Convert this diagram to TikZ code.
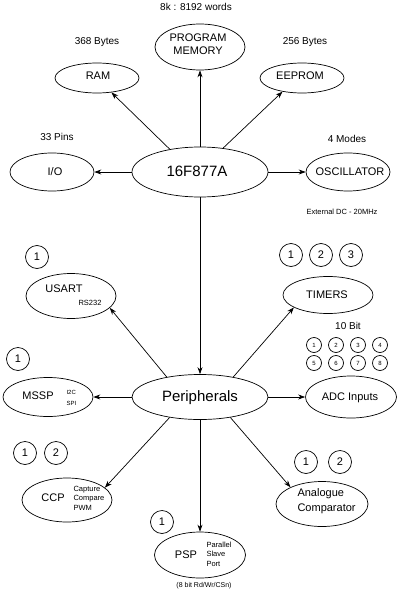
\documentclass[tikz,border=0pt]{standalone}
\usepackage{fontspec}
\setmainfont{Liberation Sans}
\usetikzlibrary{arrows.meta, shapes.geometric}

\begin{document}
\begin{tikzpicture}[x=1pt, y=-1pt,
    bigtext/.style={font=\fontsize{15}{18}\selectfont},
    nametext/.style={font=\fontsize{11}{13.5}\selectfont},
    notetext/.style={font=\fontsize{10}{12}\selectfont},
    smalltext/.style={font=\fontsize{7.5}{9.5}\selectfont}]

\useasboundingbox (0,0) rectangle (400,594);

\begin{scope}[every node/.style={ellipse,draw,line width=0.7pt,inner sep=0pt}]
    \node (chip) at (200, 172) [minimum width=136pt, minimum height=50pt] {};
    \node (prog) at (200, 47) [minimum width=90pt, minimum height=46pt] {};
    \node (ram) at (97, 78) [minimum width=84pt, minimum height=30pt] {};
    \node (eeprom) at (302, 78) [minimum width=84pt, minimum height=30pt] {};
    \node (io) at (52, 172) [minimum width=84pt, minimum height=38pt] {};
    \node (osc) at (348, 172) [minimum width=84pt, minimum height=38pt] {};

    \node (peri) at (200, 397) [minimum width=136pt, minimum height=45pt] {};
    \node (usart) at (71, 296) [minimum width=90pt, minimum height=45pt] {};
    \node (timers) at (328, 295) [minimum width=90pt, minimum height=37pt] {};
    \node (mssp) at (48, 397) [minimum width=90pt, minimum height=39pt] {};
    \node (adc) at (351, 397) [minimum width=91pt, minimum height=42pt] {};
    \node (ccp) at (67, 500) [minimum width=90pt, minimum height=44pt] {};
    \node (psp) at (200, 555) [minimum width=91pt, minimum height=46pt] {};
    \node (comp) at (322, 504) [minimum width=92pt, minimum height=45pt] {};
\end{scope}

\begin{scope}[every node/.style={nametext}]
    \node (chiptext) at (197, 171) [bigtext] {16F877A};
    \node (peritext) at (200, 398) [bigtext] {Peripherals};
    \node (progtext) at (198, 44) [align=center] {PROGRAM\\MEMORY};
    \node (ramtext) at (98, 76) {RAM};
    \node (eepromtext) at (300, 76) {EEPROM};
    \node (iotext) at (55, 172) {I/O};
    \node (osctext) at (350, 172) {OSCILLATOR};
    \node (usarttext) at (64, 289) {USART};
    \node (timerstext) at (327, 295) {TIMERS};
    \node (mssptext) at (38, 396) {MSSP};
    \node (adctext) at (350, 398) {ADC Inputs};
    \node (ccptext) at (53, 498) {CCP};
    \node (psptext) at (186, 555) {PSP};
    \node (comptext) at (294, 501) [anchor=west, align=left, font=\fontsize{11}{15}\selectfont] {Analogue\\Comparator};

    \node (rs) at (90, 303) [smalltext] {RS232};
    \node (bus) at (63, 398) [anchor=west, align=left, font=\fontsize{6}{10.5}\selectfont] {I2C\\SPI};
    \node (modes) at (70, 498) [anchor=west, align=left, smalltext] {Capture\\Compare\\PWM};
    \node (port) at (203, 554) [anchor=west, align=left, smalltext] {Parallel\\Slave\\Port};

    \node (words) at (196, 7) [notetext] {8k : 8192 words};
    \node (rambytes) at (97, 42) [notetext] {368 Bytes};
    \node (eebytes) at (305, 42) [notetext] {256 Bytes};
    \node (pins) at (57, 137) [notetext] {33 Pins};
    \node (oscmodes) at (347, 139) [notetext] {4 Modes};
    \node (bits) at (348, 326) [notetext] {10 Bit};
    \node (clock) at (342, 212) [smalltext] {External DC - 20MHz};
    \node (pspbus) at (204, 586) [font=\fontsize{7}{9}\selectfont] {(8 bit Rd/Wr/CSn)};
\end{scope}

\begin{scope}[every node/.style={circle,draw,line width=0.7pt,inner sep=0pt,minimum size=23pt,font=\fontsize{11}{13}\selectfont}]
    \node (usart1) at (37, 257) {1};
    \node (mssp1) at (18, 359) {1};
    \node (timers1) at (291, 255) {1};
    \node (timers2) at (321, 255) {2};
    \node (timers3) at (351, 255) {3};
    \node (ccp1) at (25, 453) {1};
    \node (ccp2) at (56, 453) {2};
    \node (psp1) at (162, 522) {1};
    \node (comp1) at (306, 462) {1};
    \node (comp2) at (340, 462) {2};
\end{scope}

\begin{scope}[every node/.style={circle,draw,line width=0.7pt,inner sep=0pt,minimum size=15pt,font=\fontsize{6}{7}\selectfont}]
    \node (adc1) at (314, 345) {1};
    \node (adc2) at (336, 345) {2};
    \node (adc3) at (358, 345) {3};
    \node (adc4) at (380, 345) {4};
    \node (adc5) at (314, 363) {5};
    \node (adc6) at (336, 363) {6};
    \node (adc7) at (358, 363) {7};
    \node (adc8) at (380, 363) {8};
\end{scope}

\begin{scope}[>={Stealth[length=7pt,width=5pt]},
              every edge/.style={draw,line width=0.7pt}]
    \path [->] (chip.north) edge (prog.south);
    \path [->] (chip.143) edge (ram.-45);
    \path [->] (chip.46) edge (eeprom.-145);
    \path [->] (chip.west) edge (io.east);
    \path [->] (chip.east) edge (osc.west);
    \path [->] (chip.south) edge (peri.north);

    \path [->] (peri.149) edge (usart.-17);
    \path [->] (peri.31) edge (timers.-160);
    \path [->] (peri.west) edge (mssp.east);
    \path [->] (peri.east) edge (adc.west);
    \path [->] (peri.-146) edge (ccp.18);
    \path [->] (peri.south) edge (psp.north);
    \path [->] (peri.-34) edge (comp.152);
\end{scope}
\end{tikzpicture}
\end{document}
